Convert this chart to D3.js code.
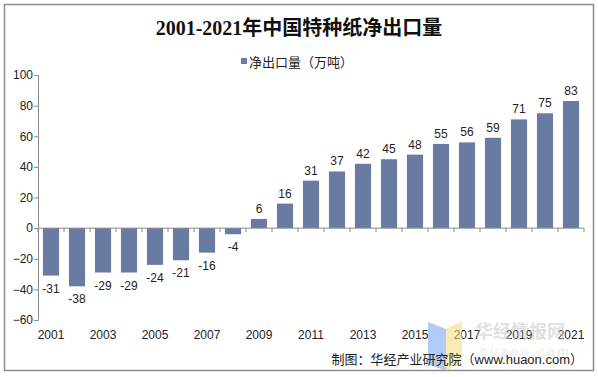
<!DOCTYPE html>
<html><head><meta charset="utf-8">
<script src="https://cdn.jsdelivr.net/npm/d3@7"></script>
<style>body{margin:0;background:#fff}svg{display:block}</style>
</head><body>
<svg id="c" width="598" height="377"></svg>
<script>
const years = ["2001","2002","2003","2004","2005","2006","2007","2008","2009","2010","2011","2012","2013","2014","2015","2016","2017","2018","2019","2020","2021"];
const values = [-31,-38,-29,-29,-24,-21,-16,-4,6,16,31,37,42,45,48,55,56,59,71,75,83];
const yTicks = [-60,-40,-20,0,20,40,60,80,100];
const title = "2001-2021年中国特种纸净出口量";
const seriesName = "净出口量（万吨）";
const source = "制图：华经产业研究院（www.huaon.com）";

const svg = d3.select("#c");
const font = "'Liberation Sans', Arial, 'Noto Sans CJK SC', sans-serif";
const barColor = "#6A7BA3";

svg.append("rect").attr("x",4.5).attr("y",4.5).attr("width",589).attr("height",366)
  .attr("fill","#fff").attr("stroke","#8c8c8c").attr("stroke-width",1.5);

svg.append("text").attr("x",299).attr("y",35).attr("text-anchor","middle")
  .attr("font-family","'Liberation Serif','Noto Sans CJK SC',serif").attr("font-size",20).attr("font-weight","bold")
  .attr("fill","#111").text(title);

// legend
svg.append("rect").attr("x",241).attr("y",58).attr("width",6).attr("height",6).attr("fill",barColor);
svg.append("text").attr("x",249).attr("y",67).attr("font-family",font).attr("font-size",13)
  .attr("fill","#222").text(seriesName);

const x = d3.scaleBand().domain(years).range([38,584]).paddingInner(0.38).paddingOuter(0.19);
const y = d3.scaleLinear().domain([-60,100]).range([320,75]);

// y axis
const yAxis = d3.axisLeft(y).tickValues(yTicks).tickSize(4).tickFormat(d3.format("d"));
const gy = svg.append("g").attr("transform","translate(38,0)").call(yAxis);
gy.select(".domain").attr("stroke","#888");
gy.selectAll(".tick line").attr("stroke","#888");
gy.selectAll(".tick text").attr("font-family",font).attr("font-size",12).attr("fill","#222").attr("x",-5);

// bars
svg.append("g").selectAll("rect").data(values).join("rect")
  .attr("x",(d,i)=>x(years[i]))
  .attr("width",x.bandwidth())
  .attr("y",d=>y(Math.max(0,d)))
  .attr("height",d=>Math.abs(y(d)-y(0)))
  .attr("fill",barColor);

// zero axis with ticks at band boundaries
const boundaries = d3.range(years.length+1).map(i=>38 + i*(546/years.length));
svg.append("line").attr("x1",38).attr("x2",584).attr("y1",y(0)).attr("y2",y(0)).attr("stroke","#888");
svg.append("g").selectAll("line").data(boundaries).join("line")
  .attr("x1",d=>d).attr("x2",d=>d).attr("y1",y(0)).attr("y2",y(0)+4).attr("stroke","#888");

// value labels
svg.append("g").selectAll("text").data(values).join("text")
  .attr("x",(d,i)=>x(years[i])+x.bandwidth()/2)
  .attr("y",d=> d>=0 ? y(d)-6 : y(d)+17)
  .attr("text-anchor","middle").attr("font-family",font).attr("font-size",12).attr("fill","#222")
  .text(d=>d);

// year labels (every other)
svg.append("g").selectAll("text").data(years.filter((d,i)=>i%2===0)).join("text")
  .attr("x",d=>x(d)+x.bandwidth()/2).attr("y",339)
  .attr("text-anchor","middle").attr("font-family",font).attr("font-size",12).attr("fill","#222")
  .text(d=>d);

// watermark
const wm = svg.append("g").attr("opacity",0.55);
wm.append("path").attr("d","M428,322 L446,329 L446,371 L428,364 Z").attr("fill","#6fa3f0");
wm.append("path").attr("d","M446,329 L462,321 L462,362 L446,371 Z").attr("fill","#f3dc7a");
wm.append("text").attr("x",475).attr("y",338).attr("font-family","'Noto Sans CJK SC',sans-serif")
  .attr("font-size",18).attr("font-weight","bold").attr("fill","#c8c8c8").text("华经情报网");
wm.append("text").attr("x",480).attr("y",356).attr("font-family",font)
  .attr("font-size",13).attr("letter-spacing",3).attr("fill","#d8d8d8").text("huaon.com");

// source
svg.append("text").attr("x",583).attr("y",364).attr("text-anchor","end")
  .attr("font-family",font).attr("font-size",13).attr("fill","#222").text(source);
</script>
</body></html>
